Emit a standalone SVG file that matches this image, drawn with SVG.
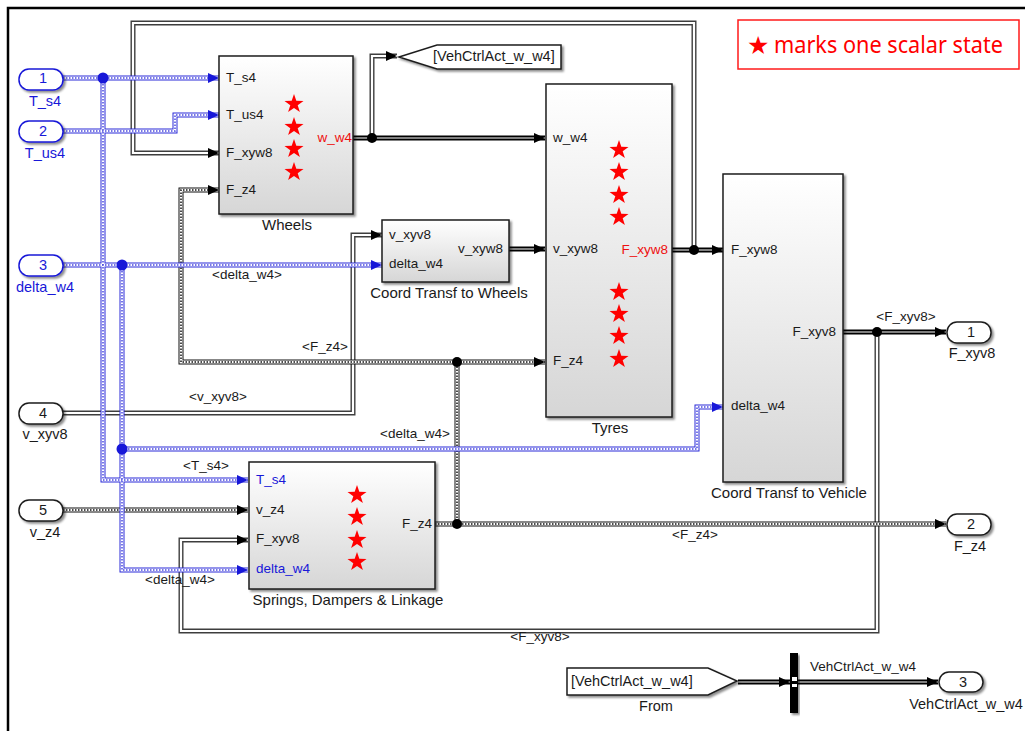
<svg xmlns="http://www.w3.org/2000/svg" xmlns:xlink="http://www.w3.org/1999/xlink" width="1025" height="731" viewBox="0 0 1025 731">
<style>
.t{font-family:"Liberation Sans",Arial,sans-serif;font-size:13.5px;fill:#1a1a1a}
.bl{font-size:15px}
.pl{font-size:14.5px}
.m{text-anchor:middle}
.e{text-anchor:end}
.blue{fill:#1818d8}
.red{fill:#ee1010}
.blk{fill:url(#g);stroke:#1e1e1e;stroke-width:1.5;filter:url(#sh)}
.port{fill:#fff;stroke:#1e1e1e;stroke-width:1.5;filter:url(#sh)}
.portb{fill:#fff;stroke:#1818d8;stroke-width:1.5;filter:url(#sh)}
.bo{fill:none;stroke:#2a2ad8;stroke-width:5}
.bi{fill:none;stroke:#fff;stroke-width:3}
.bd{fill:none;stroke:#4a4ae0;stroke-width:1.5;stroke-dasharray:1.5 1.5}
.ko{fill:none;stroke:#111;stroke-width:5}
.ki{fill:none;stroke:#fff;stroke-width:3}
.kd{fill:none;stroke:#111;stroke-width:1.5;stroke-dasharray:1.5 1.5}
.go{fill:none;stroke:#3e3e3e;stroke-width:5}
.gi{fill:none;stroke:#fff;stroke-width:2.2}
.to{fill:none;stroke:#000;stroke-width:5}
.ti{fill:none;stroke:#fff;stroke-width:1.2}
.arr{fill:none;stroke:none}
</style>
<defs>
<linearGradient id="g" x1="0" y1="0" x2="0" y2="1"><stop offset="0" stop-color="#ffffff"/><stop offset="1" stop-color="#d6d6d6"/></linearGradient>
<filter id="sh" x="-10%" y="-10%" width="130%" height="130%"><feDropShadow dx="2" dy="2" stdDeviation="1.2" flood-color="#000" flood-opacity="0.45"/></filter>
<marker id="ah" viewBox="0 0 11 10" refX="11" refY="5" markerWidth="11" markerHeight="10" markerUnits="userSpaceOnUse" orient="auto"><path d="M0,0 L11,5 L0,10 Z" fill="#000"/></marker>
<marker id="ahb" viewBox="0 0 11 10" refX="11" refY="5" markerWidth="11" markerHeight="10" markerUnits="userSpaceOnUse" orient="auto"><path d="M0,0 L11,5 L0,10 Z" fill="#1818d8"/></marker>
<path id="star" d="M0,-10 L2.3,-3.2 L9.5,-3.1 L3.7,1.2 L5.9,8.1 L0,3.9 L-5.9,8.1 L-3.7,1.2 L-9.5,-3.1 L-2.3,-3.2 Z" fill="#ff0000"/>
<path id="w1" d="M63,78 H219"/>
<path id="w2" d="M63,131 H175 V115 H219"/>
<path id="w3" d="M103,78 V480 H248"/>
<path id="w4" d="M63,265 H382"/>
<path id="w5" d="M122,265 V570 H248"/>
<path id="w6" d="M122,449 H697 V407 H723"/>
<path id="w7" d="M435,524 H946"/>
<path id="w8" d="M457,524 V362 H545"/>
<path id="w9" d="M457,362 H181 V190 H219"/>
<path id="w10" d="M63,510 H248"/>
<path id="w11" d="M694,250 V23 H133 V153 H219"/>
<path id="w12" d="M63,413 H353 V235 H382"/>
<path id="w13" d="M877,332 V631 H181 V540 H248"/>
<path id="w14" d="M372,138 V56 H397"/>
<path id="w15" d="M353,138 H545"/>
<path id="w16" d="M509,249 H545"/>
<path id="w17" d="M672,250 H723"/>
<path id="w18" d="M843,332 H946"/>
<path id="w19" d="M738,682 H790"/>
<path id="w20" d="M798,682 H938"/>
</defs>
<rect width="1025" height="731" fill="#fff"/>
<path d="M8,731 V8 H1025" fill="none" stroke="#000" stroke-width="2.5"/>

<g id="connectors">
<g class="go"><use href="#w11"/><use href="#w12"/><use href="#w13"/><use href="#w14"/></g>
<g class="gi"><use href="#w11"/><use href="#w12"/><use href="#w13"/><use href="#w14"/></g>
<g class="ko"><use href="#w7"/><use href="#w8"/><use href="#w9"/><use href="#w10"/></g>
<g class="ki"><use href="#w7"/><use href="#w8"/><use href="#w9"/><use href="#w10"/></g>
<g class="kd"><use href="#w7"/><use href="#w8"/><use href="#w9"/><use href="#w10"/></g>
<g class="bo"><use href="#w1"/><use href="#w2"/><use href="#w3"/><use href="#w4"/><use href="#w5"/><use href="#w6"/></g>
<g class="bi"><use href="#w1"/><use href="#w2"/><use href="#w3"/><use href="#w4"/><use href="#w5"/><use href="#w6"/></g>
<g class="bd"><use href="#w1"/><use href="#w2"/><use href="#w3"/><use href="#w4"/><use href="#w5"/><use href="#w6"/></g>
<g class="to"><use href="#w15"/><use href="#w16"/><use href="#w17"/><use href="#w18"/><use href="#w19"/><use href="#w20"/></g>
<g class="ti"><use href="#w15"/><use href="#w16"/><use href="#w17"/><use href="#w18"/><use href="#w19"/><use href="#w20"/></g>
<g class="arr" marker-end="url(#ahb)"><use href="#w1"/><use href="#w2"/><use href="#w3"/><use href="#w4"/><use href="#w5"/><use href="#w6"/></g>
<g class="arr" marker-end="url(#ah)"><use href="#w7"/><use href="#w8"/><use href="#w9"/><use href="#w10"/><use href="#w11"/><use href="#w12"/><use href="#w13"/><use href="#w14"/><use href="#w15"/><use href="#w16"/><use href="#w17"/><use href="#w18"/><use href="#w19"/><use href="#w20"/></g>
<g fill="#1818d8"><circle cx="103" cy="78" r="5.5"/><circle cx="122" cy="265" r="5.5"/><circle cx="122" cy="449" r="5.5"/></g>
<g fill="#000"><circle cx="372" cy="138" r="5"/><circle cx="694" cy="250" r="5"/><circle cx="877" cy="332" r="5"/><circle cx="457" cy="524" r="5"/><circle cx="457" cy="362" r="5"/></g>
<g class="t m">
<text x="247" y="279">&lt;delta_w4&gt;</text>
<text x="325" y="351">&lt;F_z4&gt;</text>
<text x="218" y="401">&lt;v_xyv8&gt;</text>
<text x="415" y="438">&lt;delta_w4&gt;</text>
<text x="206" y="470">&lt;T_s4&gt;</text>
<text x="180" y="584">&lt;delta_w4&gt;</text>
<text x="695" y="539">&lt;F_z4&gt;</text>
<text x="540" y="641">&lt;F_xyv8&gt;</text>
<text x="906" y="321">&lt;F_xyv8&gt;</text>
<text x="863" y="671">VehCtrlAct_w_w4</text>
</g>
</g>

<g id="in1"><rect class="portb" x="19" y="69" width="44" height="21" rx="10"/><text class="t pl m blue" x="43" y="83">1</text><text class="t pl m blue" x="45" y="106">T_s4</text></g>
<g id="in2"><rect class="portb" x="19" y="121" width="44" height="21" rx="10"/><text class="t pl m blue" x="43" y="136">2</text><text class="t pl m blue" x="45" y="158">T_us4</text></g>
<g id="in3"><rect class="portb" x="19" y="255" width="44" height="21" rx="10"/><text class="t pl m blue" x="43" y="270">3</text><text class="t pl m blue" x="45" y="292">delta_w4</text></g>
<g id="in4"><rect class="port" x="19" y="403" width="44" height="21" rx="10"/><text class="t pl m" x="43" y="418">4</text><text class="t pl m" x="45" y="439">v_xyv8</text></g>
<g id="in5"><rect class="port" x="19" y="500" width="44" height="21" rx="10"/><text class="t pl m" x="43" y="515">5</text><text class="t pl m" x="45" y="537">v_z4</text></g>

<g id="out1"><rect class="port" x="947" y="322" width="44" height="21" rx="10"/><text class="t pl m" x="971" y="337">1</text><text class="t pl m" x="972" y="358">F_xyv8</text></g>
<g id="out2"><rect class="port" x="947" y="514" width="44" height="21" rx="10"/><text class="t pl m" x="971" y="529">2</text><text class="t pl m" x="970" y="551">F_z4</text></g>
<g id="out3"><rect class="port" x="939" y="672" width="44" height="20" rx="10"/><text class="t pl m" x="963" y="687">3</text><text class="t pl m" x="966" y="709">VehCtrlAct_w_w4</text></g>

<g id="wheels">
<rect class="blk" x="219" y="56" width="134" height="158"/>
<text class="t" x="226" y="82">T_s4</text>
<text class="t" x="226" y="119">T_us4</text>
<text class="t" x="226" y="157">F_xyw8</text>
<text class="t" x="226" y="194">F_z4</text>
<text class="t e red" x="352" y="142">w_w4</text>
<use href="#star" x="294" y="104"/><use href="#star" x="294" y="127"/><use href="#star" x="294" y="149"/><use href="#star" x="294" y="172"/>
<text class="t bl m" x="287" y="230">Wheels</text>
</g>

<g id="goto">
<path d="M399,57 L437,45 H561 V69 H437 Z" fill="#fff" stroke="#1e1e1e" stroke-width="1.5" filter="url(#sh)"/>
<text class="t pl" x="433" y="61">[VehCtrlAct_w_w4]</text>
</g>

<g id="tyres">
<rect class="blk" x="546" y="84" width="126" height="333"/>
<text class="t" x="553" y="142">w_w4</text>
<text class="t" x="553" y="253">v_xyw8</text>
<text class="t" x="553" y="365">F_z4</text>
<text class="t e red" x="668" y="254">F_xyw8</text>
<use href="#star" x="619" y="150"/><use href="#star" x="619" y="172"/><use href="#star" x="619" y="195"/><use href="#star" x="619" y="217"/>
<use href="#star" x="619" y="292"/><use href="#star" x="619" y="314"/><use href="#star" x="619" y="336"/><use href="#star" x="619" y="359"/>
<text class="t bl m" x="610" y="433">Tyres</text>
</g>

<g id="ctw">
<rect class="blk" x="382" y="220" width="127" height="62"/>
<text class="t" x="389" y="239">v_xyv8</text>
<text class="t" x="389" y="268">delta_w4</text>
<text class="t e" x="503" y="253">v_xyw8</text>
<text class="t bl m" x="449" y="298">Coord Transf to Wheels</text>
</g>

<g id="ctv">
<rect class="blk" x="723" y="174" width="120" height="308"/>
<text class="t" x="731" y="254">F_xyw8</text>
<text class="t" x="731" y="410">delta_w4</text>
<text class="t e" x="836" y="336">F_xyv8</text>
<text class="t bl m" x="789" y="498">Coord Transf to Vehicle</text>
</g>

<g id="springs">
<rect class="blk" x="249" y="462" width="186" height="127"/>
<text class="t blue" x="256" y="484">T_s4</text>
<text class="t" x="256" y="514">v_z4</text>
<text class="t" x="256" y="543">F_xyv8</text>
<text class="t blue" x="256" y="573">delta_w4</text>
<text class="t e" x="432" y="528">F_z4</text>
<use href="#star" x="357" y="495"/><use href="#star" x="357" y="517"/><use href="#star" x="357" y="540"/><use href="#star" x="357" y="562"/>
<text class="t bl m" x="348" y="605">Springs, Dampers &amp; Linkage</text>
</g>

<g id="from">
<path d="M567,668 H708 L737,681 L708,695 H567 Z" fill="#fff" stroke="#1e1e1e" stroke-width="1.5" filter="url(#sh)"/>
<text class="t pl" x="571" y="686">[VehCtrlAct_w_w4]</text>
<text class="t pl m" x="656" y="711">From</text>
</g>

<g id="busSel">
<rect x="790" y="653" width="8" height="60" fill="#000" filter="url(#sh)"/>
<rect x="792" y="677" width="5" height="4" fill="#fff"/>
<rect x="792" y="684" width="5" height="3" fill="#fff"/>
</g>

<g id="legend">
<rect x="738" y="20" width="281" height="49" fill="#fff" stroke="#ff1a1a" stroke-width="1.5"/>
<text x="747" y="54" font-family="'DejaVu Sans',sans-serif" font-size="25" fill="#ff0000">★</text>
<text x="774" y="53" font-family="'Noto Sans','Open Sans',sans-serif" font-size="23" fill="#ff0000" textLength="229" lengthAdjust="spacingAndGlyphs">marks one scalar state</text>
</g>
</svg>
